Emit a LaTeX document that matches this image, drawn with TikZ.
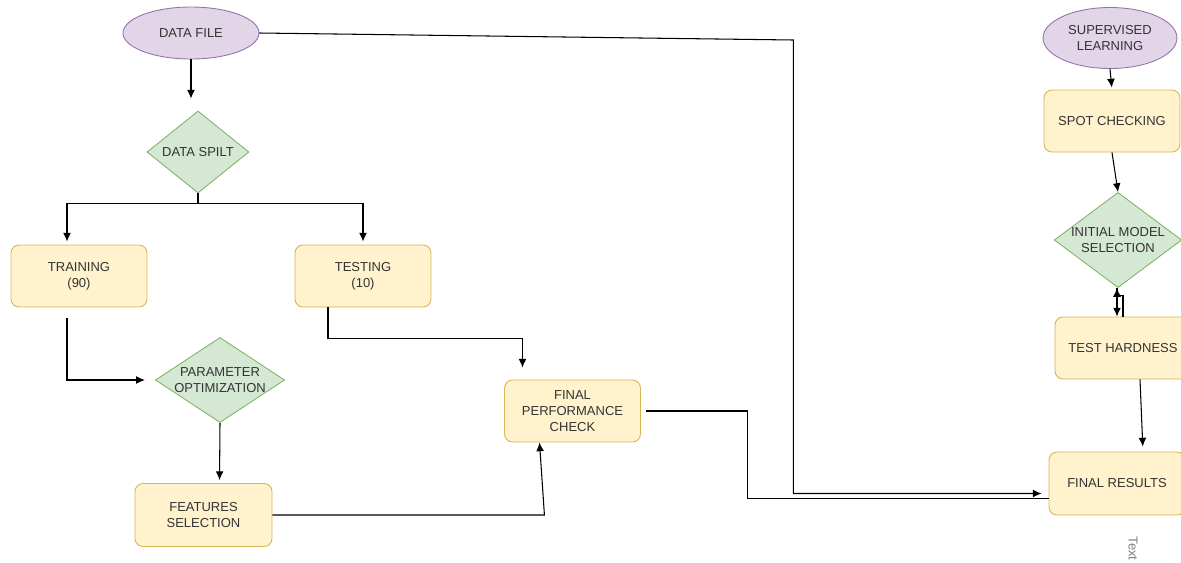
\documentclass[tikz,border=0pt]{standalone}
\usepackage{fontspec}
\setmainfont{Liberation Sans}
\usetikzlibrary{shapes.geometric}
\usetikzlibrary{calc}
\usetikzlibrary{arrows.meta}
\definecolor{termfill}{HTML}{E1D5E7}
\definecolor{termline}{HTML}{9673A6}
\definecolor{decfill}{HTML}{D5E8D4}
\definecolor{decline}{HTML}{82B366}
\definecolor{procfill}{HTML}{FFF2CC}
\definecolor{procline}{HTML}{D6B656}
\definecolor{txt}{HTML}{333333}
\tikzset{every picture/.style={line width=0.6pt, >={Latex[length=5pt,width=4.5pt]}},
every node/.style={font=\fontsize{7.4}{9}\selectfont, text=txt},
term/.style={ellipse, draw=termline, fill=termfill, line width=0.5pt, inner sep=0pt, align=center},
decide/.style={diamond, draw=decline, fill=decfill, line width=0.5pt, inner sep=0pt, align=center},
proc/.style={rectangle, rounded corners=1.6mm, draw=procline, fill=procfill, line width=0.5pt, minimum width=2.72cm, minimum height=1.24cm, align=center}}

\begin{document}
\begin{tikzpicture}[x=0.02cm, y=-0.02cm]
\clip (0,0) rectangle (1181,562);
% left branch
\node (df) at (191,33) [term, minimum width=2.72cm, minimum height=1.04cm] {DATA FILE};
\node (dsp) at (198,152) [decide, minimum width=2.04cm, minimum height=1.64cm, shape aspect=1.24] {DATA SPILT};
\node (tr) at (79,276) [proc] {TRAINING\\(90)};
\node (te) at (363,276) [proc] {TESTING\\(10)};
\node (po) at (220,380) [decide, minimum width=2.52cm, minimum height=1.66cm, shape aspect=1.52] {PARAMETER\\OPTIMIZATION};
\node (fs) at (203.5,515) [proc, minimum width=2.74cm, minimum height=1.26cm] {FEATURES\\SELECTION};
\node (fpc) at (572.5,411) [proc] {FINAL\\PERFORMANCE\\CHECK};
% right column
\node (sl) at (1110,38) [term, minimum width=2.68cm, minimum height=1.22cm] {SUPERVISED\\LEARNING};
\node (sp) at (1112,121) [proc] {SPOT CHECKING};
\node (im) at (1118,240) [decide, minimum width=2.52cm, minimum height=1.88cm, shape aspect=1.34] {INITIAL MODEL\\SELECTION};
\node (th) at (1123,348) [proc] {TEST HARDNESS};
\node (fr) at (1117,483.5) [proc, minimum height=1.26cm] {FINAL RESULTS};
\node (lbl) at (1133,536) [rotate=-90, anchor=west, inner sep=0pt, text=gray] {Text};

\draw[->, shorten >=0.24cm] (df.south) -- (df.south |- dsp.north);
\draw[->, shorten >=0.06cm] (dsp.south) -- ++(0,10) -| ($(tr.north)+(-12,0)$);
\draw[->, shorten >=0.06cm] (dsp.south) -- ++(0,10) -| (te.north);
\draw[->, shorten <=0.22cm, shorten >=0.2cm] ($(tr.south)+(-12,0)$) |- (po.west);
\draw[->, shorten >=0.24cm] ($(te.south)+(-35,0)$) -- ++(0,31) -| ($(fpc.north)+(-50,0)$);
\draw[->, shorten >=0.06cm] (po.south) -- ($(fs.north)+(16,0)$);
\draw[->] (fs.east) -- ++(272,0) -- ($(fpc.south)+(-33,0)$);
\draw[shorten <=0.1cm] (fpc.east) -- ++(107,0) |- ($(fr.west)+(0,15)$);
\draw[->, shorten >=0.14cm] (df.east) -- ++(534,7) |- ($(fr.west)+(0,10)$);

\draw[->, shorten >=0.04cm] (sl.south) -- (sp.north);
\draw[->] (sp.south) -- (im.north);
\draw[->] ($(im.south)+(-1,0)$) -- ($(th.north)+(-6,0)$);
\draw[->] (th.north) -- ++(0,-21) -| ($(im.south)+(-1,0)$);
\draw[->, shorten >=0.1cm] ($(th.south)+(17,0)$) -- ($(fr.north)+(26,0)$);
\end{tikzpicture}
\end{document}
